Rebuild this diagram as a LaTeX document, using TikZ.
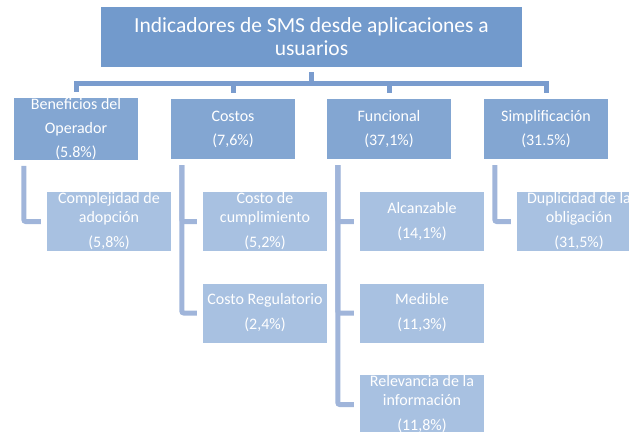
\documentclass[tikz,border=0pt]{standalone}
\usepackage{fontspec}
\setmainfont{Carlito}
\usetikzlibrary{positioning}
\definecolor{topblue}{RGB}{114,154,204}
\definecolor{catblue}{RGB}{131,166,210}
\definecolor{subblue}{RGB}{168,193,225}
\definecolor{barblue}{RGB}{122,156,206}
\definecolor{linkblue}{RGB}{160,181,218}
\tikzset{
	topbox/.style={fill=topblue, text=white, minimum width=421pt, minimum height=60pt, inner sep=0pt, align=center, font=\fontsize{21.5}{23}\selectfont},
	catbox/.style={fill=catblue, text=white, minimum width=124pt, minimum height=60pt, inner sep=0pt, align=center, font=\fontsize{16}{24}\selectfont},
	subbox/.style={fill=subblue, text=white, minimum width=124pt, minimum height=59pt, inner sep=0pt, align=center, font=\fontsize{16}{19}\selectfont},
	bar/.style={draw=barblue, line width=5pt, shorten >=6pt},
	link/.style={draw=linkblue, line width=5pt, rounded corners=2pt, shorten <=6pt, shorten >=6pt}
}

\begin{document}
\begin{tikzpicture}[x=1pt,y=-1pt]
			\clip (0,0) rectangle (629,431);
			\node[topbox] (top) at (311.5,37) {Indicadores de SMS desde aplicaciones a\\usuarios};
			\node[catbox] (ben) at (76,129) {Beneficios del\\Operador\\(5.8\%)};
			\node[catbox] (cos) at (233,129) {Costos\\(7,6\%)};
			\node[catbox] (fun) at (389,129) {Funcional\\(37,1\%)};
			\node[catbox] (sim) at (546,129) {Simplificación\\(31.5\%)};
			\node[subbox] (cmp) at (109,221.5) {Complejidad de\\adopción\\[6pt](5,8\%)};
			\node[subbox] (cum) at (265,221.5) {Costo de\\cumplimiento\\[6pt](5,2\%)};
			\node[subbox] (reg) at (265,313) {Costo Regulatorio\\[6pt](2,4\%)};
			\node[subbox] (alc) at (422,221.5) {Alcanzable\\[6pt](14,1\%)};
			\node[subbox] (med) at (422,313) {Medible\\[6pt](11,3\%)};
			\node[subbox] (rel) at (422,404.5) {Relevancia de la\\información\\[6pt](11,8\%)};
			\node[subbox] (dup) at (579,221.5) {Duplicidad de la\\obligación\\[6pt](31,5\%)};
			\draw[bar, shorten <=5pt, shorten >=0pt] (top.south) -- ++(0,16.5) coordinate (hub);
			\foreach \c in {ben,cos,fun,sim}
				\draw[bar] (hub) -| (\c.north);
			\draw[link] ([xshift=10pt]ben.south west) |- (cmp.west);
			\draw[link] ([xshift=11pt]cos.south west) |- (cum.west);
			\draw[link] ([xshift=11pt]cos.south west) |- (reg.west);
			\draw[link] ([xshift=11pt]fun.south west) |- (alc.west);
			\draw[link] ([xshift=11pt]fun.south west) |- (med.west);
			\draw[link] ([xshift=11pt]fun.south west) |- (rel.west);
			\draw[link] ([xshift=11pt]sim.south west) |- (dup.west);
		\end{tikzpicture}
\end{document}
